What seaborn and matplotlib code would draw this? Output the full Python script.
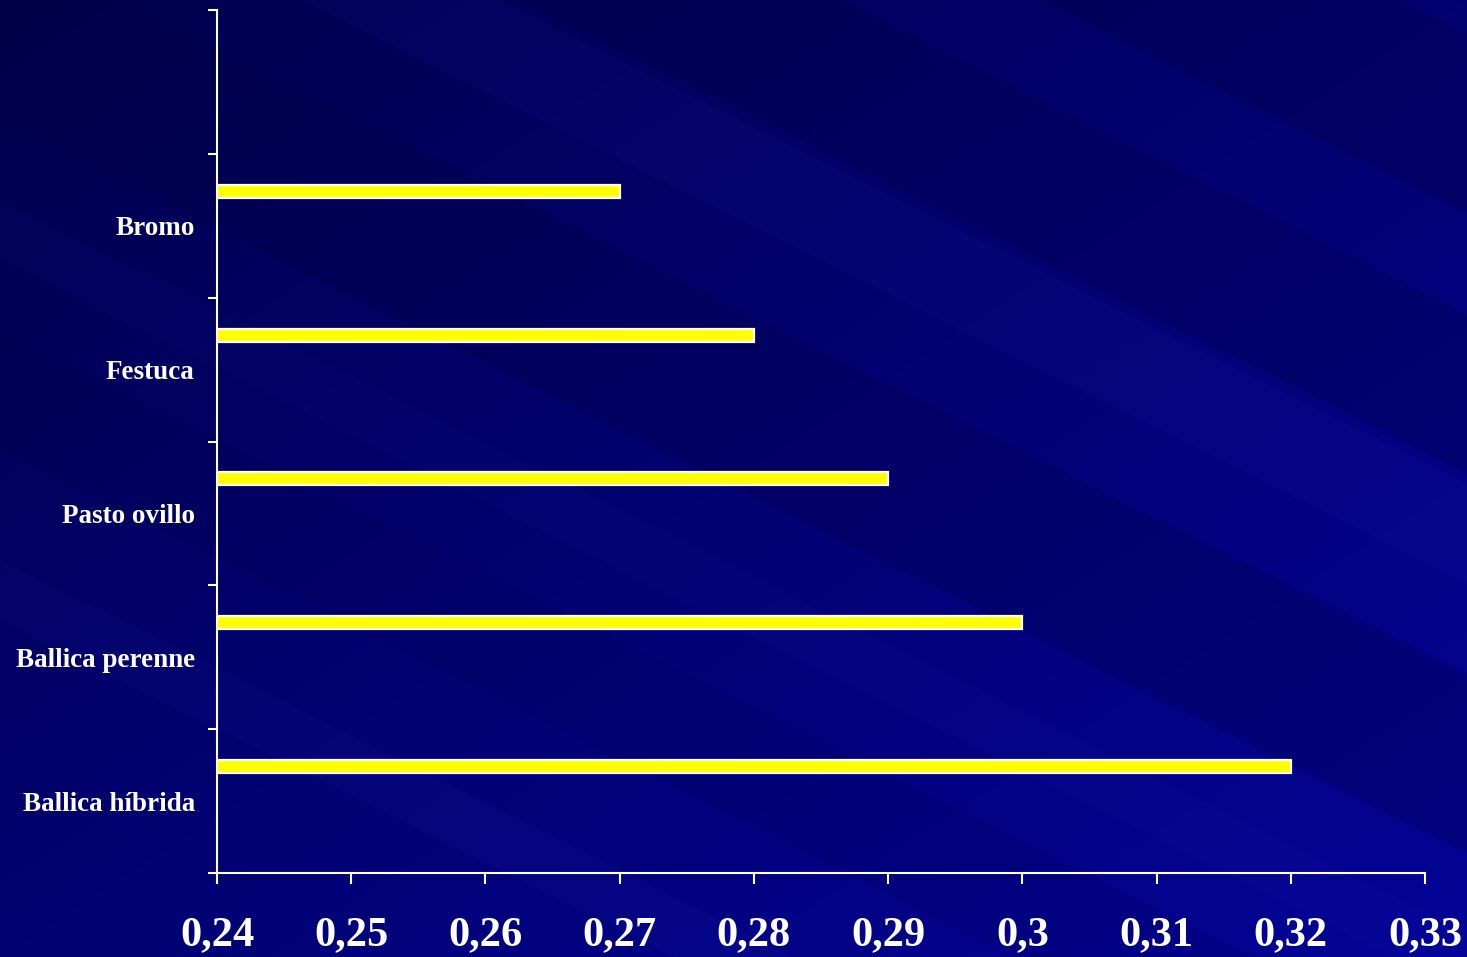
import numpy as np
import pandas as pd
import matplotlib
matplotlib.use("Agg")
import matplotlib.pyplot as plt
import seaborn as sns
from matplotlib.ticker import FuncFormatter


# ---------------------------------------------------
# Data

species = ["Bromo", "Festuca", "Pasto ovillo", "Ballica perenne", "Ballica híbrida"]
values = [0.27, 0.28, 0.29, 0.30, 0.32]

# the original has an empty slot on top of the categories
slot_order = [" "] + species

x_ticks = [0.24, 0.25, 0.26, 0.27, 0.28, 0.29, 0.30, 0.31, 0.32, 0.33]

df = pd.DataFrame({"especie": species, "valor": values})


# ---------------------------------------------------
# Style

sns.set_style("ticks")
plt.rcParams["font.family"] = ["Liberation Serif", "DejaVu Serif"]

W, H = 1467, 957
fig = plt.figure(figsize=(W / 100, H / 100), dpi=100)


# Background: dark blue gradient with diagonal streaks

bg = fig.add_axes([0, 0, 1, 1], zorder=-5)
yy, xx = np.mgrid[0:H, 0:W]
t = np.clip(0.5 * xx / W + 0.5 * yy / H, 0, 1)
c0 = np.array([0x00, 0x00, 0x4c]) / 255
c1 = np.array([0x04, 0x04, 0x98]) / 255
img = c0 + (c1 - c0) * t[..., None]
bg.imshow(img, extent=(0, W, H, 0), aspect="auto")

slope = 0.5
streaks = [
    (-700, -520, "#000040", 0.30),
    (-420, -260, "#000040", 0.25),
    (-250, -150, "#3030c0", 0.08),
    (-60, 120, "#000040", 0.25),
    (200, 260, "#3030c0", 0.05),
    (330, 450, "#000040", 0.12),
    (560, 620, "#4040d0", 0.06),
]
xs = np.array([0, W])
for a, b, col, alpha in streaks:
    bg.fill_between(xs, a + slope * xs, b + slope * xs, color=col, alpha=alpha, lw=0)

bg.set_xlim(0, W)
bg.set_ylim(H, 0)
bg.axis("off")


# ---------------------------------------------------
# Bars

ax = fig.add_axes([217 / W, 1 - 873 / H, (1425 - 217) / W, (873 - 10) / H])
ax.set_facecolor("none")

sns.barplot(
    data=df,
    x="valor",
    y="especie",
    order=slot_order,
    orient="h",
    color="#FFFF00",
    saturation=1,
    edgecolor="white",
    linewidth=1.6,
    width=0.09,
    ax=ax)

# bars sit in the upper part of each slot
for p in ax.patches:
    p.set_y(p.get_y() - 0.24)

ax.set_xlim(x_ticks[0], x_ticks[-1])
ax.set_ylim(len(slot_order) - 0.5, -0.5)

ax.set_xticks(x_ticks)
ax.xaxis.set_major_formatter(
    FuncFormatter(lambda v, _: f"{v:g}".replace(".", ",")))

ax.set_yticks(range(len(slot_order)))
ax.set_yticklabels(slot_order)
ax.set_yticks(np.arange(-0.5, len(slot_order), 1), minor=True)

ax.tick_params(axis="x", length=8, width=1.5, color="white",
               labelcolor="white", labelsize=30.5, pad=23)
ax.tick_params(axis="y", which="major", length=0,
               labelcolor="white", labelsize=19.5, pad=16)
ax.tick_params(axis="y", which="minor", length=6.5, width=1.5, color="white")

for lab in ax.get_xticklabels() + ax.get_yticklabels():
    lab.set_fontweight("bold")

for side in ["top", "right"]:
    ax.spines[side].set_visible(False)
for side in ["left", "bottom"]:
    ax.spines[side].set_color("white")
    ax.spines[side].set_linewidth(1.5)

ax.set_xlabel("")
ax.set_ylabel("")

plt.savefig("out.png", dpi=100)
